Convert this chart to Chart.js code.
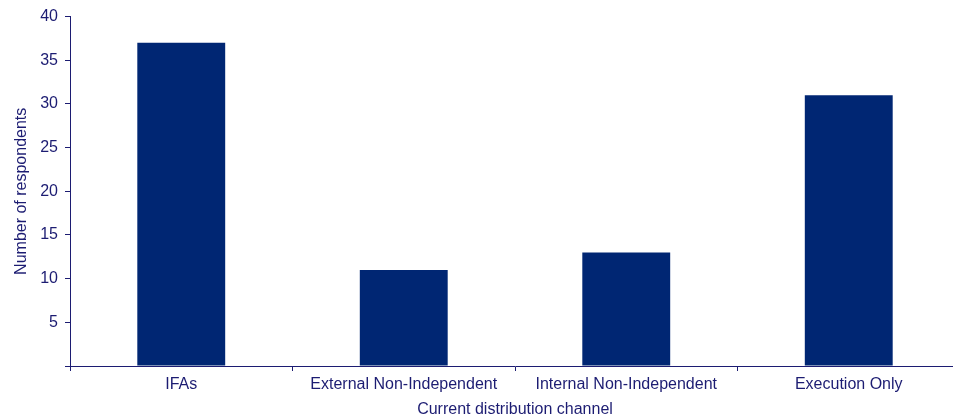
<!DOCTYPE html>
<html>
<head>
<meta charset="utf-8">
<script src="https://cdn.jsdelivr.net/npm/chart.js@4/dist/chart.umd.min.js"></script>
<style>
  html, body { margin: 0; padding: 0; background: #fff; overflow: hidden; }
  #wrap { width: 962px; height: 419px; }
</style>
</head>
<body>
<div id="wrap"><canvas id="chart"></canvas></div>
<script>
// distribution channels and respondent counts
const channels = ['IFAs', 'External Non-Independent', 'Internal Non-Independent', 'Execution Only'];
const respondents = [37, 11, 13, 31];
const yTicks = [0, 5, 10, 15, 20, 25, 30, 35, 40];

const navy = '#1c1c72';
const barColor = '#002673';

Chart.defaults.font.family = '"Liberation Sans", Arial, sans-serif';
Chart.defaults.color = navy;

const ctx = document.getElementById('chart').getContext('2d');

new Chart(ctx, {
    type: 'bar',
    data: {
        labels: channels,
        datasets: [{
            data: respondents,
            backgroundColor: barColor,
            borderWidth: 0,
            categoryPercentage: 1,
            barPercentage: 0.395
        }]
    },
    options: {
        responsive: true,
        maintainAspectRatio: false,
        animation: false,
        layout: { padding: { top: 16, right: 2, left: 0, bottom: 0 } },
        plugins: { legend: { display: false }, tooltip: { enabled: false } },
        scales: {
            x: {
                afterFit: (scale) => { scale.height = 53; },
                border: { color: navy, width: 1 },
                grid: {
                    offset: true,
                    drawOnChartArea: false,
                    drawTicks: true,
                    tickLength: 5,
                    color: navy
                },
                ticks: { font: { size: 16 }, padding: 4, color: navy, maxRotation: 0 },
                title: {
                    display: true,
                    text: 'Current distribution channel',
                    font: { size: 16 },
                    color: navy,
                    padding: { top: 0, bottom: 0 }
                }
            },
            y: {
                min: 0,
                max: 40,
                afterFit: (scale) => { scale.width = 70; },
                afterBuildTicks: (scale) => { scale.ticks = yTicks.map(v => ({ value: v })); },
                border: { color: navy, width: 1 },
                grid: {
                    drawOnChartArea: false,
                    drawTicks: true,
                    tickLength: 5,
                    color: navy
                },
                ticks: {
                    font: { size: 16 },
                    color: navy,
                    padding: 7,
                    callback: (v) => v === 0 ? '' : v
                },
                title: {
                    display: true,
                    text: 'Number of respondents',
                    font: { size: 16 },
                    color: navy,
                    padding: { top: 12, bottom: 4 }
                }
            }
        }
    }
});
</script>
</body>
</html>
